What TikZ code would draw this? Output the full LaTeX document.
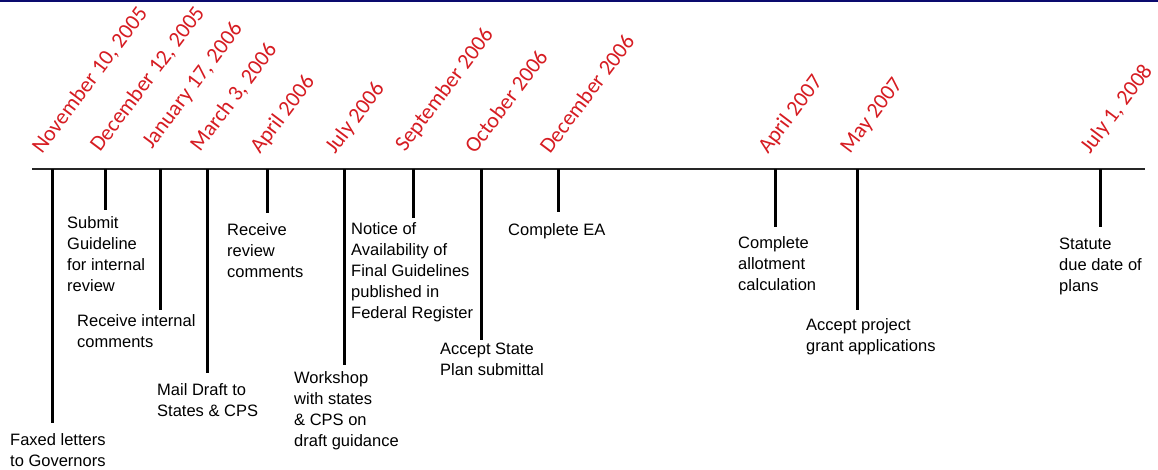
\documentclass[tikz,border=0pt]{standalone}
\usepackage{fontspec}
\setmainfont{Liberation Sans}
\newfontfamily\datefont{Carlito}
\usetikzlibrary{positioning}
\definecolor{datered}{RGB}{214,28,34}
\definecolor{topnavy}{RGB}{10,10,110}
\begin{document}
\begin{tikzpicture}[x=1pt,y=-1pt,
	date/.style={anchor=base west, rotate=53, inner sep=0pt, text=datered, font=\datefont\fontsize{22}{24}\selectfont},
	event/.style={anchor=north west, inner sep=0pt, align=left, font=\fontsize{16.5}{21}\selectfont},
	tick/.style={line width=3pt},
	timeline/.style={line width=2pt, draw=black!85}]
	\useasboundingbox (0,0) rectangle (1158,469);
	
	% Top rule
	\coordinate (ruleleft) at (0,1);
	\coordinate (ruleright) at (1158,1);
	\draw [topnavy, line width=2pt] (ruleleft) -- (ruleright);
	
	% TIME LINE
	\coordinate (start) at (32,169);
	\coordinate (end) at (1145,169);
	\draw [timeline] (start) -- (end);
	
	% Tick positions on the line
	\coordinate (nov05) at (52,169);
	\coordinate (dec05) at (105,169);
	\coordinate (jan06) at (160,169);
	\coordinate (mar06) at (207,169);
	\coordinate (apr06) at (267,169);
	\coordinate (jul06) at (344,169);
	\coordinate (sep06) at (413,169);
	\coordinate (oct06) at (481,169);
	\coordinate (dec06) at (558,169);
	\coordinate (apr07) at (775,169);
	\coordinate (may07) at (857,169);
	\coordinate (jul08) at (1100,169);
	
	% DATES
	\node [date] at ([xshift=-10pt,yshift=14pt]nov05) (nov05date) {November 10, 2005};
	\node [date] at ([xshift=-5pt,yshift=16pt]dec05) (dec05date) {December 12, 2005};
	\node [date] at ([xshift=-8pt,yshift=19pt]jan06) (jan06date) {January 17, 2006};
	\node [date] at ([xshift=-7pt,yshift=16pt]mar06) (mar06date) {March 3, 2006};
	\node [date] at ([xshift=-7pt,yshift=14pt]apr06) (apr06date) {April 2006};
	\node [date] at ([xshift=-9pt,yshift=14pt]jul06) (jul06date) {July 2006};
	\node [date] at ([xshift=-8pt,yshift=16pt]sep06) (sep06date) {September 2006};
	\node [date] at ([xshift=-6pt,yshift=14pt]oct06) (oct06date) {October 2006};
	\node [date] at ([xshift=-8pt,yshift=14pt]dec06) (dec06date) {December 2006};
	\node [date] at ([xshift=-7pt,yshift=14pt]apr07) (apr07date) {April 2007};
	\node [date] at ([xshift=-7pt,yshift=14pt]may07) (may07date) {May 2007};
	\node [date] at ([xshift=-10pt,yshift=14pt]jul08) (jul08date) {July 1, 2008};
	
	% Tick ends
	\coordinate (nov05end) at (52,423);
	\coordinate (dec05end) at (105,210);
	\coordinate (jan06end) at (160,310);
	\coordinate (mar06end) at (207,373);
	\coordinate (apr06end) at (267,213);
	\coordinate (jul06end) at (344,365);
	\coordinate (sep06end) at (413,218);
	\coordinate (oct06end) at (481,340);
	\coordinate (dec06end) at (558,212);
	\coordinate (apr07end) at (775,227);
	\coordinate (may07end) at (857,310);
	\coordinate (jul08end) at (1100,227);
	
	\draw [tick] (nov05) -- (nov05end);
	\draw [tick] (dec05) -- (dec05end);
	\draw [tick] (jan06) -- (jan06end);
	\draw [tick] (mar06) -- (mar06end);
	\draw [tick] (apr06) -- (apr06end);
	\draw [tick] (jul06) -- (jul06end);
	\draw [tick] (sep06) -- (sep06end);
	\draw [tick] (oct06) -- (oct06end);
	\draw [tick] (dec06) -- (dec06end);
	\draw [tick] (apr07) -- (apr07end);
	\draw [tick] (may07) -- (may07end);
	\draw [tick] (jul08) -- (jul08end);
	
	% EVENTS
	\node [event] at (10,433) (faxed) {Faxed letters\\to Governors};
	\node [event] at (67,216) (submit) {Submit\\Guideline\\for internal\\review};
	\node [event] at (77,314) (internal) {Receive internal\\comments};
	\node [event] at (157,383) (mail) {Mail Draft to\\States \& CPS};
	\node [event] at (227,223) (review) {Receive\\review\\comments};
	\node [event] at (294,371) (workshop) {Workshop\\with states\\\& CPS on\\draft guidance};
	\node [event] at (351,222) (notice) {Notice of\\Availability of\\Final Guidelines\\published in\\Federal Register};
	\node [event] at (440,343) (stateplan) {Accept State\\Plan submittal};
	\node [event] at (508,223) (ea) {Complete EA};
	\node [event] at (738,236) (allot) {Complete\\allotment\\calculation};
	\node [event] at (806,318) (grant) {Accept project\\grant applications};
	\node [event] at (1059,238) (statute) {Statute\\due date of\\plans};
	
\end{tikzpicture}
\end{document}
